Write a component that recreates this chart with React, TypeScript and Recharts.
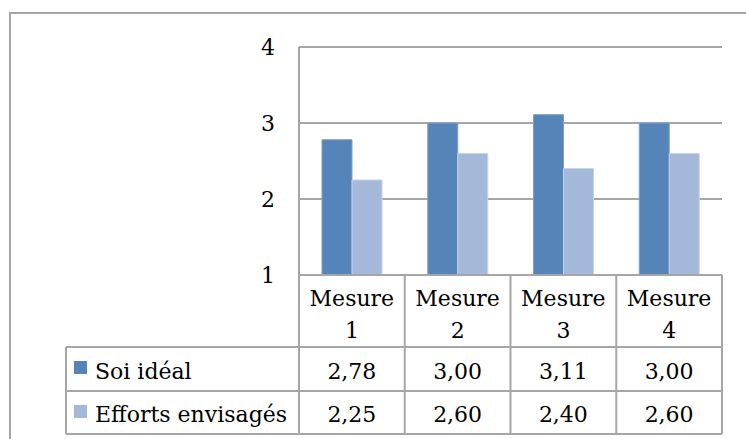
import React from 'react';
import { BarChart, Bar, XAxis, YAxis, CartesianGrid } from 'recharts';

const categories = ['Mesure 1', 'Mesure 2', 'Mesure 3', 'Mesure 4'];
const soiIdeal = [2.78, 3.0, 3.11, 3.0];
const effortsEnvisages = [2.25, 2.6, 2.4, 2.6];
const yTicks = [1, 2, 3, 4];
const seriesNames = ['Soi idéal', 'Efforts envisagés'];

const data = categories.map((name, i) => ({
  name,
  soi: soiIdeal[i],
  efforts: effortsEnvisages[i],
}));

const W = 746;
const H = 439;
const PLOT_LEFT = 299;
const PLOT_RIGHT = 722;
const PLOT_TOP = 47;
const PLOT_BOTTOM = 275;
const HEADER_BOTTOM = 347;
const ROW1_BOTTOM = 391;
const ROW2_BOTTOM = 434;
const TABLE_LEFT = 66;
const LINE = '#a6a6a6';
const BLUE = '#5585b8';
const LIGHT = '#a4b8d9';
const FONT = '"DejaVu Serif", serif';
const FS = 22;

const fmt = (v: number) => v.toFixed(2).replace('.', ',');

const TableTick = (props: any) => {
  const { x, index } = props;
  const band = (PLOT_RIGHT - PLOT_LEFT) / categories.length;
  const left = x - band / 2;
  const right = x + band / 2;
  const [word, num] = categories[index].split(' ');
  return (
    <g>
      <line x1={right} x2={right} y1={PLOT_BOTTOM} y2={ROW2_BOTTOM} stroke={LINE} strokeWidth={2} />
      {index === 0 && (
        <line x1={left} x2={left} y1={PLOT_BOTTOM} y2={ROW2_BOTTOM} stroke={LINE} strokeWidth={2} />
      )}
      <line x1={left} x2={right} y1={PLOT_BOTTOM} y2={PLOT_BOTTOM} stroke={LINE} strokeWidth={2} />
      <text x={x} y={298} textAnchor="middle" dominantBaseline="central" fontFamily={FONT} fontSize={FS} fill="#000">
        {word}
      </text>
      <text x={x} y={330} textAnchor="middle" dominantBaseline="central" fontFamily={FONT} fontSize={FS} fill="#000">
        {num}
      </text>
      <text x={x} y={371} textAnchor="middle" dominantBaseline="central" fontFamily={FONT} fontSize={FS} fill="#000">
        {fmt(soiIdeal[index])}
      </text>
      <text x={x} y={414} textAnchor="middle" dominantBaseline="central" fontFamily={FONT} fontSize={FS} fill="#000">
        {fmt(effortsEnvisages[index])}
      </text>
    </g>
  );
};

const App: React.FC = () => {
  return (
    <div style={{ position: 'absolute', left: 0, top: 0, width: W, height: H, overflow: 'hidden', background: '#fff' }}>
      <div
        style={{
          position: 'absolute',
          left: 9,
          top: 12,
          width: W,
          height: H,
          borderLeft: `2px solid ${LINE}`,
          borderTop: `2px solid ${LINE}`,
        }}
      />
      <div style={{ position: 'absolute', left: 0, top: 0 }}>
        <BarChart
          width={W}
          height={H}
          data={data}
          margin={{ top: PLOT_TOP, right: W - PLOT_RIGHT, left: PLOT_LEFT - 60, bottom: 0 }}
          barCategoryGap={23}
          barGap={0}
        >
          <CartesianGrid horizontal vertical={false} stroke={LINE} strokeWidth={2} />
          <YAxis
            width={60}
            domain={[1, 4]}
            ticks={yTicks}
            interval={0}
            axisLine={{ stroke: LINE, strokeWidth: 2 }}
            tickLine={false}
            tickMargin={18}
            tick={{ fontFamily: FONT, fontSize: FS, fill: '#000' }}
          />
          <XAxis
            dataKey="name"
            height={H - PLOT_BOTTOM}
            axisLine={false}
            tickLine={false}
            interval={0}
            tick={<TableTick />}
          />
          <Bar dataKey="soi" name={seriesNames[0]} fill={BLUE} stroke="#7ea0c9" strokeWidth={1} isAnimationActive={false} />
          <Bar dataKey="efforts" name={seriesNames[1]} fill={LIGHT} stroke="#c5d3e8" strokeWidth={1} isAnimationActive={false} />
        </BarChart>
      </div>
      <svg width={W} height={H} style={{ position: 'absolute', left: 0, top: 0, pointerEvents: 'none' }}>
        <line x1={TABLE_LEFT} x2={PLOT_RIGHT} y1={HEADER_BOTTOM} y2={HEADER_BOTTOM} stroke={LINE} strokeWidth={2} />
        <line x1={TABLE_LEFT} x2={PLOT_RIGHT} y1={ROW1_BOTTOM} y2={ROW1_BOTTOM} stroke={LINE} strokeWidth={2} />
        <line x1={TABLE_LEFT} x2={PLOT_RIGHT} y1={ROW2_BOTTOM} y2={ROW2_BOTTOM} stroke={LINE} strokeWidth={2} />
        <line x1={TABLE_LEFT} x2={TABLE_LEFT} y1={HEADER_BOTTOM} y2={ROW2_BOTTOM} stroke={LINE} strokeWidth={2} />
        <rect x={74} y={361} width={13} height={13} fill={BLUE} />
        <text x={95} y={371} dominantBaseline="central" fontFamily={FONT} fontSize={FS} fill="#000">
          {seriesNames[0]}
        </text>
        <rect x={74} y={405} width={13} height={13} fill={LIGHT} />
        <text x={95} y={414} dominantBaseline="central" fontFamily={FONT} fontSize={FS} fill="#000">
          {seriesNames[1]}
        </text>
      </svg>
    </div>
  );
};

export default App;
